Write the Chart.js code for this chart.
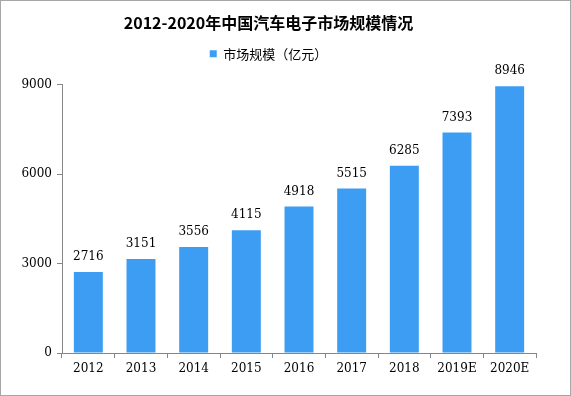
<!DOCTYPE html>
<html>
<head>
<meta charset="utf-8">
<script src="https://cdn.jsdelivr.net/npm/chart.js@4"></script>
<style>
  html, body { margin: 0; padding: 0; background: #fff; }
  #wrap { width: 571px; height: 396px; box-sizing: border-box; border: 1px solid #a6a6a6; position: relative; }
  #chart { display: block; }
</style>
</head>
<body>
<div id="wrap"><canvas id="chart" width="569" height="394"></canvas></div>
<script>
// ===== data =====
const years = ['2012', '2013', '2014', '2015', '2016', '2017', '2018', '2019E', '2020E'];
const marketSize = [2716, 3151, 3556, 4115, 4918, 5515, 6285, 7393, 8946];
const yTicks = [0, 3000, 6000, 9000];

const BAR_COLOR = '#3d9df2';
const AXIS_COLOR = '#868686';
const NUM_FONT = { family: "'DejaVu Serif', 'Liberation Serif', serif", size: 12 };

// value labels above bars
const valueLabels = {
    id: 'valueLabels',
    afterDatasetsDraw(chart) {
        const ctx = chart.ctx;
        const meta = chart.getDatasetMeta(0);
        ctx.save();
        ctx.font = `${NUM_FONT.size}px ${NUM_FONT.family}`;
        ctx.fillStyle = '#000';
        ctx.textAlign = 'center';
        ctx.textBaseline = 'middle';
        meta.data.forEach((bar, i) => {
            ctx.fillText(String(marketSize[i]), bar.x, bar.y - 15);
        });
        ctx.restore();
    }
};

// make legend take a fixed height so the plot starts where the original does
const legendHeight = {
    id: 'legendHeight',
    beforeInit(chart) {
        const fit = chart.legend.fit;
        chart.legend.fit = function () {
            fit.bind(chart.legend)();
            this.height = 42.5;
        };
    }
};

new Chart(document.getElementById('chart'), {
    type: 'bar',
    data: {
        labels: years,
        datasets: [{
            label: '市场规模（亿元）',
            data: marketSize,
            backgroundColor: BAR_COLOR,
            borderWidth: 0,
            barPercentage: 0.55,
            categoryPercentage: 1
        }]
    },
    options: {
        responsive: false,
        animation: false,
        layout: { padding: { left: 0, right: 34, top: 0, bottom: 0 } },
        plugins: {
            title: {
                display: true,
                text: '2012-2020年中国汽车电子市场规模情况',
                color: '#000',
                font: { family: "'Noto Sans CJK SC', sans-serif", size: 16, weight: 'bold' },
                padding: { top: 12, bottom: 10 }
            },
            legend: {
                display: true,
                position: 'top',
                labels: {
                    color: '#000',
                    boxWidth: 7,
                    boxHeight: 7,
                    padding: 5,
                    font: { family: "'Noto Sans CJK SC', sans-serif", size: 13 }
                }
            },
            tooltip: { enabled: false }
        },
        scales: {
            x: {
                grid: { display: true, drawOnChartArea: false, drawTicks: true, tickLength: 5, color: AXIS_COLOR, offset: true },
                border: { display: true, color: AXIS_COLOR, width: 1 },
                ticks: { color: '#000', font: NUM_FONT, padding: 4, maxRotation: 0, autoSkip: false },
                afterFit(scale) { scale.height = 42; }
            },
            y: {
                min: 0,
                max: 9000,
                afterBuildTicks(scale) { scale.ticks = yTicks.map(v => ({ value: v })); },
                grid: { display: true, drawOnChartArea: false, drawTicks: true, tickLength: 5, color: AXIS_COLOR },
                border: { display: true, color: AXIS_COLOR, width: 1 },
                ticks: { color: '#000', font: NUM_FONT, padding: 5, callback: v => String(v) },
                afterFit(scale) { scale.width = 61; }
            }
        }
    },
    plugins: [valueLabels, legendHeight]
});
</script>
</body>
</html>
